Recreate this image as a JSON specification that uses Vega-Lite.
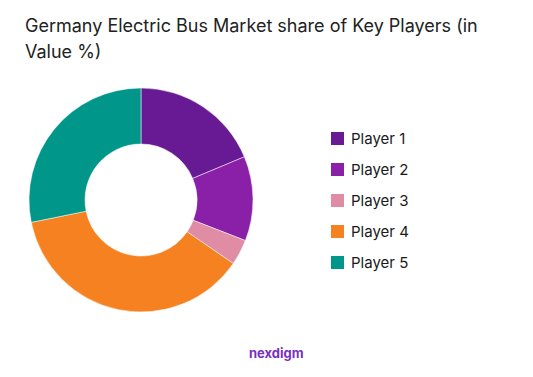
{
  "$schema": "https://vega.github.io/schema/vega-lite/v6.json",
  "autosize": {"type": "none"},
  "padding": {"left": 29, "top": 88, "right": 280, "bottom": 65},
  "width": 224,
  "height": 224,
  "background": "#ffffff",
  "title": {
    "text": ["Germany Electric Bus Market share of Key Players (in", "Value %)"],
    "anchor": "start",
    "frame": "group",
    "orient": "top",
    "dx": -4,
    "offset": 25,
    "font": "Inter",
    "fontSize": 18,
    "fontWeight": "normal",
    "color": "#222222",
    "lineHeight": 26
  },
  "config": {"view": {"stroke": null}},
  "layer": [
    {
      "data": {
        "values": [
          {"player": "Player 1", "share": 18.7},
          {"player": "Player 2", "share": 12.2},
          {"player": "Player 3", "share": 3.7},
          {"player": "Player 4", "share": 37.2},
          {"player": "Player 5", "share": 28.2}
        ]
      },
      "mark": {"type": "arc", "innerRadius": 56, "outerRadius": 112, "stroke": "#ffffff", "strokeWidth": 0.5},
      "encoding": {
        "theta": {"field": "share", "type": "quantitative", "stack": true},
        "order": {"field": "player", "type": "ordinal"},
        "color": {
          "field": "player",
          "type": "nominal",
          "scale": {
            "domain": ["Player 1", "Player 2", "Player 3", "Player 4", "Player 5"],
            "range": ["#671a94", "#8b20a8", "#df8ca4", "#f68121", "#00968a"]
          },
          "legend": {
            "title": null,
            "orient": "none",
            "legendX": 301,
            "legendY": 43,
            "padding": 0,
            "symbolType": "square",
            "symbolSize": 169,
            "symbolStrokeWidth": 0,
            "labelFont": "Inter",
            "labelFontSize": 15,
            "labelColor": "#1a1a1a",
            "labelOffset": 6,
            "rowPadding": 15
          }
        }
      }
    },
    {
      "data": {"values": [{"brand": "nexdigm"}]},
      "mark": {"type": "text", "font": "Inter", "fontSize": 13, "fontWeight": "bold", "color": "#7b2fbe", "align": "left", "baseline": "middle"},
      "encoding": {
        "text": {"field": "brand", "type": "nominal"},
        "x": {"value": 220},
        "y": {"value": 266}
      }
    }
  ]
}
